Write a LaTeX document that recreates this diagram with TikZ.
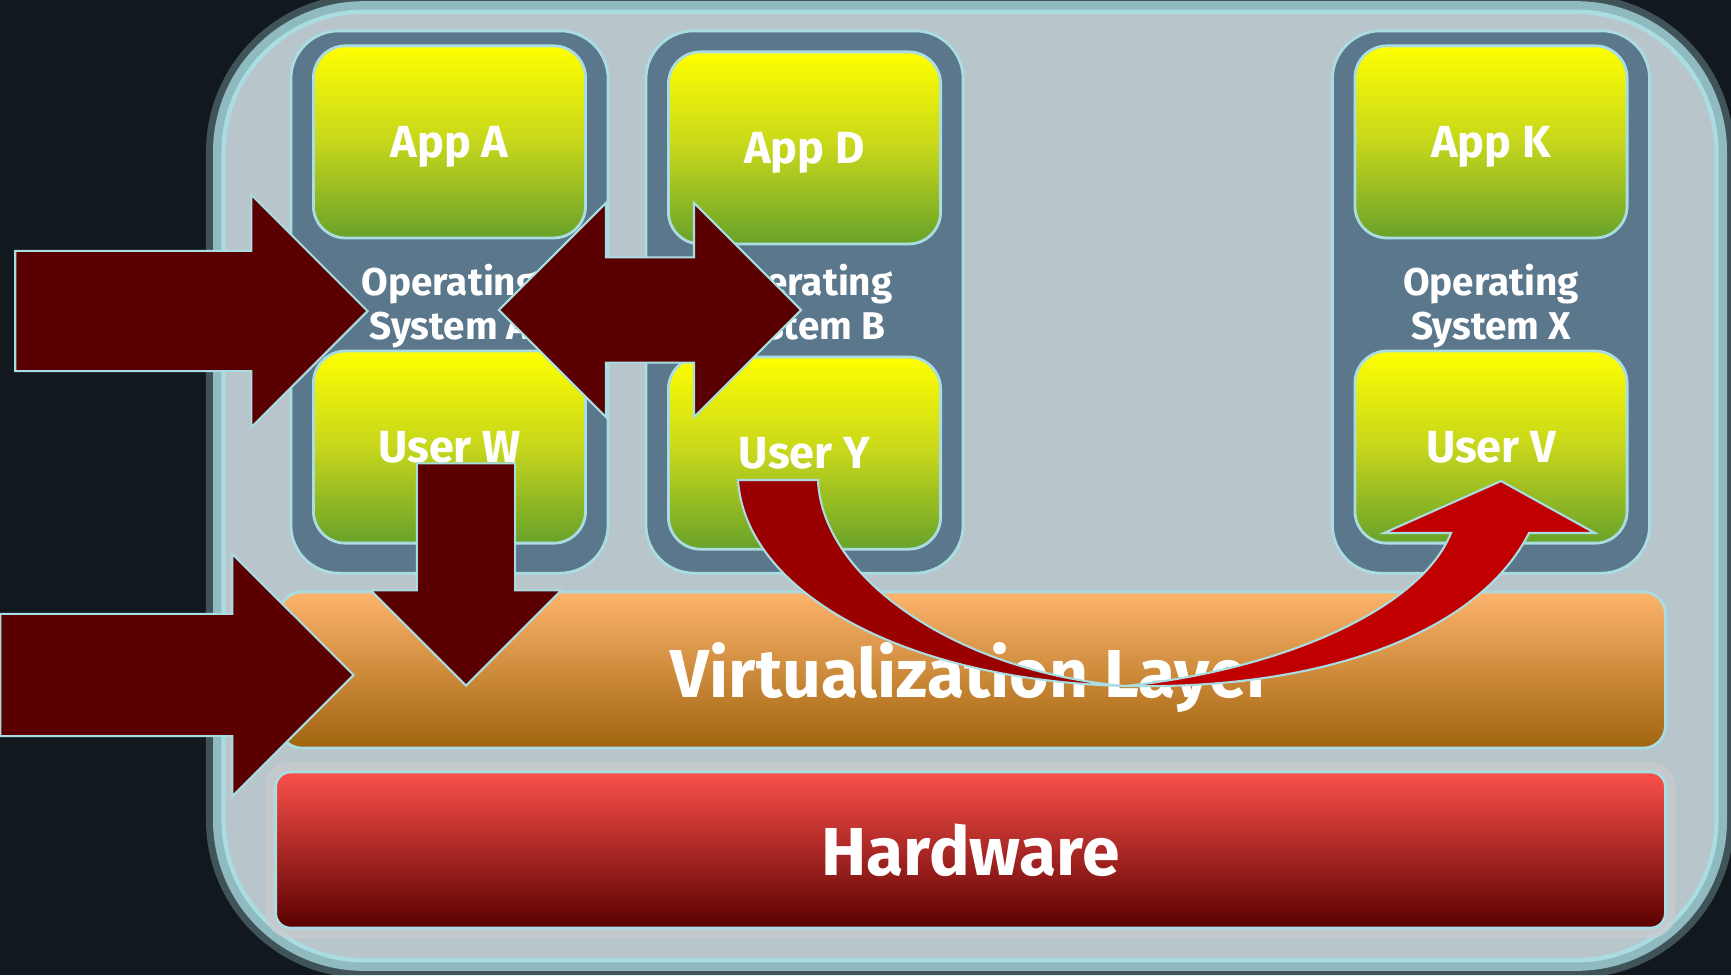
\documentclass[tikz,border=0pt]{standalone}
\usepackage{fontspec}
\setmainfont{Fira Sans}
\usetikzlibrary{shapes.arrows,positioning}

\definecolor{bgdark}{RGB}{17,24,30}
\definecolor{panelgray}{RGB}{184,198,204}
\definecolor{edgecyan}{RGB}{170,221,226}
\definecolor{osslate}{RGB}{91,119,140}
\definecolor{appyellow}{RGB}{255,255,0}
\definecolor{appmid}{RGB}{198,214,28}
\definecolor{appgreen}{RGB}{104,162,42}
\definecolor{virttop}{RGB}{253,180,108}
\definecolor{virtbot}{RGB}{160,100,14}
\definecolor{hwtop}{RGB}{251,80,74}
\definecolor{hwbot}{RGB}{90,0,0}
\definecolor{halogray}{RGB}{202,203,205}
\definecolor{arrowred}{RGB}{90,0,0}
\definecolor{curvedark}{RGB}{154,0,0}
\definecolor{curvebright}{RGB}{192,0,0}

\begin{document}
\begin{tikzpicture}[
  x=0.01cm, y=-0.01cm,
  panelbox/.style={draw=edgecyan, line width=1.2pt, fill=panelgray, rounded corners=1.4cm, minimum width=14.92cm, minimum height=9.48cm,
    preaction={draw=edgecyan, line width=10pt, opacity=0.3},
    preaction={draw=edgecyan, line width=6pt, opacity=0.75}},
  osbox/.style={draw=edgecyan, line width=0.8pt, fill=osslate, rounded corners=0.48cm, minimum width=3.17cm, minimum height=5.42cm,
    align=center, text depth=0pt, text=white, font=\fontsize{11}{12.6}\selectfont\bfseries},
  appbox/.style={draw=edgecyan, line width=0.8pt, rounded corners=0.32cm, minimum width=2.72cm, minimum height=1.92cm,
    top color=appyellow, bottom color=appgreen, middle color=appmid, text depth=0pt, text=white, font=\fontsize{12.8}{15}\selectfont\bfseries},
  layer/.style={draw=edgecyan, line width=0.8pt, minimum height=1.56cm, text depth=0pt, text=white, font=\fontsize{19.3}{23}\selectfont\bfseries},
  blockarrow/.style={single arrow, draw=edgecyan, line width=0.6pt, fill=arrowred, inner xsep=0pt, anchor=tip},
  swaparrow/.style={double arrow, draw=edgecyan, line width=0.6pt, fill=arrowred, inner xsep=0pt},
  uturn/.style={draw=edgecyan, line width=0.6pt}
]
\useasboundingbox (0,0) rectangle (1731,975);
\fill[bgdark] (0,0) rectangle (1731,975);

\node[panelbox] (panel) at (970,486) {};

% guest systems
\node[osbox] (osA) at (449.5,302) {Operating\\System A};
\node[osbox, right=0.35cm of osA] (osB) {Operating\\System B};
\node[osbox] (osX) at (1491,302) {Operating\\System X};

\node[appbox, below=0.15cm of osA.north] (appA) {App A};
\node[appbox, above=0.3cm of osA.south] (userW) {User W};
\node[appbox, below=0.21cm of osB.north] (appD) {App D};
\node[appbox, above=0.24cm of osB.south] (userY) {User Y};
\node[appbox, below=0.15cm of osX.north] (appK) {App K};
\node[appbox, above=0.3cm of osX.south] (userV) {User V};

% shared layers
\node[layer, minimum width=13.85cm, rounded corners=0.22cm, top color=virttop, bottom color=virtbot] (virt) at (972.5,670) {Virtualization Layer};
\node[layer, minimum width=13.89cm, rounded corners=0.15cm, top color=hwtop, bottom color=hwbot,
  preaction={draw=halogray, line width=0.2cm, opacity=0.7}] (hw) at (970.5,850) {Hardware};

% block arrows
\node[blockarrow, minimum height=3.52cm, inner ysep=0.59cm, single arrow head extend=0.56cm] (inUpper) at (369,311) {};
\node[blockarrow, minimum height=3.53cm, inner ysep=0.6cm, single arrow head extend=0.6cm] (inLower) at (355,675) {};
\node[swaparrow, minimum height=3.02cm, inner ysep=0.515cm, double arrow head extend=0.545cm] (migrate) at (650,310) {};
\node[blockarrow, rotate=-90, minimum height=2.22cm, inner ysep=0.48cm, single arrow head extend=0.46cm] (toLayer) at (466,687) {};

% move from user Y over to user V
\coordinate (uStartL) at (738,480);
\coordinate (uStartR) at (818,480);
\coordinate (uLow) at (1125,686);
\coordinate (uShaftL) at (1451,533);
\coordinate (uShaftR) at (1529,533);
\coordinate (uTip) at (1501,481);
\fill[curvedark, uturn] (uStartL) .. controls (745,590) and (900,680) .. (uLow)
  .. controls (960,672) and (822,580) .. (uStartR) -- cycle;
\fill[curvebright, uturn] (uLow) .. controls (1330,690) and (1480,630) .. (uShaftR)
  -- (1595,533) -- (uTip) -- (1384,533) -- (uShaftL)
  .. controls (1420,610) and (1280,670) .. (uLow) -- cycle;
\end{tikzpicture}
\end{document}
